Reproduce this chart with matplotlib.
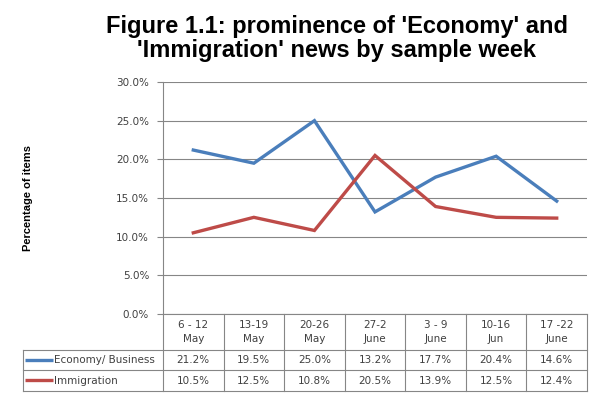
import numpy as np
import matplotlib
matplotlib.use("Agg")
import matplotlib.pyplot as plt
from matplotlib import font_manager as fm
from matplotlib.ticker import PercentFormatter

# data
weeks = ["6 - 12\nMay", "13-19\nMay", "20-26\nMay", "27-2\nJune",
         "3 - 9\nJune", "10-16\nJun", "17 -22\nJune"]
economy = [21.2, 19.5, 25.0, 13.2, 17.7, 20.4, 14.6]
immigration = [10.5, 12.5, 10.8, 20.5, 13.9, 12.5, 12.4]
series_names = ["Economy/ Business", "Immigration"]
series_colors = ["#4A7EBB", "#BE4B48"]
title = "Figure 1.1: prominence of 'Economy' and\n'Immigration' news by sample week"

W, H = 602, 399
grid_col = "#868686"
txt_col = "#404040"
fs = 7.5


def arial_bold():
    # pick the normal-width Liberation Sans Bold (not the Narrow one)
    for f in fm.fontManager.ttflist:
        if (f.name == "Liberation Sans" and f.weight in (700, "bold")
                and f.style == "normal" and "narrow" not in f.fname.lower()):
            return fm.FontProperties(fname=f.fname)
    return fm.FontProperties(family="DejaVu Sans", weight="bold")


bold_fp = arial_bold()

fig = plt.figure(figsize=(W / 100, H / 100), dpi=100)

# plot area in pixel terms
left, right, top, bottom = 163, 587, 82, 314
ax = fig.add_axes([left / W, 1 - bottom / H, (right - left) / W, (bottom - top) / H])

x = np.arange(len(weeks))
for vals, col in zip([economy, immigration], series_colors):
    ax.plot(x, vals, color=col, lw=2.4, solid_joinstyle="miter")

ax.set_xlim(-0.5, len(weeks) - 0.5)
ax.set_ylim(0, 30)
ax.set_yticks(np.arange(0, 30.1, 5))
ax.yaxis.set_major_formatter(PercentFormatter(decimals=1))
ax.set_xticks([])
ax.grid(axis="y", color=grid_col, lw=0.8)
ax.set_axisbelow(True)
for s in ["top", "right", "bottom"]:
    ax.spines[s].set_visible(False)
ax.spines["left"].set_color(grid_col)
ax.tick_params(axis="y", length=4, color=grid_col, labelsize=fs, labelcolor=txt_col, pad=6)

# data table under the plot
tab_left, row_head, row1, row2 = 23, 350, 370, 391
tax = fig.add_axes([tab_left / W, 1 - row2 / H, (right - tab_left) / W, (row2 - bottom) / H])
tax.set_xlim(tab_left, right)
tax.set_ylim(row2, bottom)
tax.axis("off")

cw = (right - left) / len(weeks)
kw = dict(color=grid_col, lw=0.8, clip_on=False)
# vertical lines
for i in range(len(weeks) + 1):
    tax.plot([left + i * cw] * 2, [bottom, row2], **kw)
tax.plot([tab_left] * 2, [row_head, row2], **kw)
# horizontal lines
tax.plot([left, right], [bottom, bottom], **kw)
for yy in [row_head, row1, row2]:
    tax.plot([tab_left, right], [yy, yy], **kw)

for i, w in enumerate(weeks):
    cx = left + (i + 0.5) * cw
    tax.text(cx, (bottom + row_head) / 2, w, ha="center", va="center",
             fontsize=fs, color=txt_col, linespacing=1.45)
    tax.text(cx, (row_head + row1) / 2 + 0.5, f"{economy[i]:.1f}%", ha="center",
             va="center", fontsize=fs, color=txt_col)
    tax.text(cx, (row1 + row2) / 2 + 0.5, f"{immigration[i]:.1f}%", ha="center",
             va="center", fontsize=fs, color=txt_col)

for (y0, y1), name, col in zip([(row_head, row1), (row1, row2)], series_names, series_colors):
    ym = (y0 + y1) / 2
    tax.plot([25, 53], [ym, ym], color=col, lw=2.4, solid_capstyle="butt", clip_on=False)
    tax.text(54, ym + 0.5, name, ha="left", va="center", fontsize=fs, color=txt_col)

yl_fp = bold_fp.copy()
yl_fp.set_size(8)
fig.text(28 / W, 1 - 198 / H, "Percentage of items", rotation=90, ha="center",
         va="center", fontproperties=yl_fp)

t_fp = bold_fp.copy()
t_fp.set_size(17)
fig.text(337 / W, 1 - 57 / H, title, ha="center", va="baseline",
         multialignment="center", fontproperties=t_fp, linespacing=1.08)

fig.savefig("out.png", dpi=100)
